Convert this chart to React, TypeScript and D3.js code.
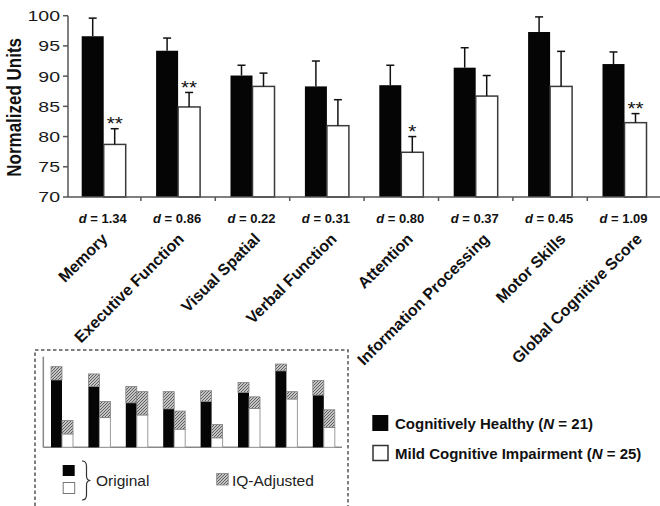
import React from "react";
import * as d3 from "d3";

// Cognitive domain scores: healthy vs. mild cognitive impairment
const categories = [
  "Memory",
  "Executive Function",
  "Visual Spatial",
  "Verbal Function",
  "Attention",
  "Information Processing",
  "Motor Skills",
  "Global Cognitive Score",
];
const healthyMean = [96.6, 94.2, 90.1, 88.3, 88.5, 91.4, 97.3, 92.0];
const healthyErr = [3.0, 2.1, 1.7, 4.2, 3.3, 3.3, 2.5, 2.0];
const mciMean = [78.7, 84.9, 88.3, 81.8, 77.4, 86.7, 88.3, 82.3];
const mciErr = [2.6, 2.4, 2.2, 4.3, 2.6, 3.4, 5.8, 1.5];
const significance = ["**", "**", "", "", "*", "", "", "**"];
const effectSizes = ["1.34", "0.86", "0.22", "0.31", "0.80", "0.37", "0.45", "1.09"];
const yTicks = [70, 75, 80, 85, 90, 95, 100];

// Inset: original means with the IQ-adjusted means stacked above
const insetHealthyOriginal = [94.6, 93.1, 89.3, 87.9, 89.6, 91.7, 96.7, 91.1];
const insetHealthyAdjusted = [97.7, 96.0, 93.1, 91.9, 92.1, 94.0, 98.3, 94.5];
const insetMciOriginal = [82.1, 85.9, 86.5, 83.2, 81.2, 88.0, 90.2, 83.6];
const insetMciAdjusted = [85.2, 89.6, 91.9, 87.4, 84.3, 90.7, 91.9, 87.7];

const groups = ["healthy", "mci"];
const FONT = "'Liberation Sans', Arial, Helvetica, sans-serif";

export default function App() {
  const W = 660;
  const H = 506;

  // main chart scales
  const x = d3.scaleBand<string>().domain(categories).range([66.5, 661.7]);
  const inner = d3.scaleBand<string>().domain(groups).range([-22, 22]);
  const y = d3.scaleLinear().domain([70, 100]).range([197, 15.7]);
  const axisX = 68;
  const cx = (c: string) => (x(c) as number) + x.bandwidth() / 2;
  // rotated category labels are spread slightly wider than the bars
  const labelX = d3.scalePoint<string>().domain(categories).range([104.5, 639]);

  // inset scales
  const ix = d3.scaleBand<string>().domain(categories).range([43.3, 342.5]);
  const iinner = d3.scaleBand<string>().domain(groups).range([-11, 11]);
  const iy = d3.scaleLinear().domain([79, 100]).range([447.3, 356.7]);
  const icx = (c: string) => (ix(c) as number) + ix.bandwidth() / 2;

  const series = [
    { key: "healthy", mean: healthyMean, err: healthyErr, fill: "#050505", stroke: "none" },
    { key: "mci", mean: mciMean, err: mciErr, fill: "#ffffff", stroke: "#3a3a3a" },
  ];

  const insetSeries = [
    { key: "healthy", orig: insetHealthyOriginal, adj: insetHealthyAdjusted, fill: "#050505", stroke: "none" },
    { key: "mci", orig: insetMciOriginal, adj: insetMciAdjusted, fill: "#ffffff", stroke: "#9a9a9a" },
  ];

  return (
    <div style={{ position: "absolute", left: 0, top: 0, width: W, height: H, background: "#fff" }}>
      <svg width={W} height={H} style={{ display: "block", fontFamily: FONT }}>
        <defs>
          <pattern id="hatch" patternUnits="userSpaceOnUse" width="3" height="3">
            <rect width="3" height="3" fill="#c4c4c4" />
            <path d="M-1,1 l2,-2 M0,3 l3,-3 M2,4 l2,-2" stroke="#555" strokeWidth="0.9" />
          </pattern>
        </defs>

        {/* y axis */}
        <line x1={axisX} x2={axisX} y1={y(100)} y2={y(70)} stroke="#555" strokeWidth={1.5} />
        {yTicks.map((t) => (
          <g key={t}>
            <line x1={axisX - 5} x2={axisX} y1={y(t)} y2={y(t)} stroke="#555" strokeWidth={1.5} />
            <text
              transform={`translate(60,${y(t)}) scale(1.3,1)`}
              textAnchor="end"
              dy="0.36em"
              fontSize={15}
              fill="#1a1a1a"
            >
              {t}
            </text>
          </g>
        ))}
        <text
          transform={`translate(21,${(y(100) + y(70)) / 2 + 1}) scale(1.2,1) rotate(-90)`}
          textAnchor="middle"
          fontSize={17}
          fontWeight="bold"
          fill="#111"
        >
          Normalized Units
        </text>

        {/* bars */}
        {series.map((s) =>
          categories.map((c, i) => {
            const bx = cx(c) + (inner(s.key) as number);
            const top = y(s.mean[i]);
            return (
              <rect
                key={s.key + c}
                x={bx}
                y={top}
                width={inner.bandwidth()}
                height={y(70) - top}
                fill={s.fill}
                stroke={s.stroke}
                strokeWidth={1.5}
              />
            );
          })
        )}

        {/* error bars */}
        {series.map((s) =>
          categories.map((c, i) => {
            const mx = cx(c) + (inner(s.key) as number) + inner.bandwidth() / 2;
            const top = y(s.mean[i]);
            const cap = y(s.mean[i] + s.err[i]);
            return (
              <g key={"e" + s.key + c} stroke="#111" strokeWidth={1.5}>
                <line x1={mx} x2={mx} y1={top} y2={cap} />
                <line x1={mx - 4} x2={mx + 4} y1={cap} y2={cap} />
              </g>
            );
          })
        )}

        {/* significance markers */}
        {categories.map((c, i) =>
          significance[i] ? (
            <text
              key={"s" + c}
              transform={`translate(${cx(c) + (inner("mci") as number) + inner.bandwidth() / 2},${
                y(mciMean[i] + mciErr[i]) + 1.5
              }) scale(1.15,1)`}
              textAnchor="middle"
              fontSize={18}
              fill="#111"
            >
              {significance[i]}
            </text>
          ) : null
        )}

        {/* x axis */}
        <line x1={axisX} x2={W} y1={y(70)} y2={y(70)} stroke="#555" strokeWidth={1.5} />
        {categories.slice(1).map((c) => (
          <line
            key={"t" + c}
            x1={x(c) as number}
            x2={x(c) as number}
            y1={y(70)}
            y2={y(70) + 4}
            stroke="#555"
            strokeWidth={1.5}
          />
        ))}

        {/* effect sizes */}
        {categories.map((c, i) => (
          <text
            key={"d" + c}
            x={cx(c) - 1}
            y={222.5}
            textAnchor="middle"
            fontSize={13}
            fontWeight="bold"
            fill="#111"
          >
            <tspan fontStyle="italic">d</tspan> = {effectSizes[i]}
          </text>
        ))}

        {/* category labels */}
        {categories.map((c) => (
          <text
            key={"l" + c}
            transform={`translate(${labelX(c)},236) rotate(-45)`}
            textAnchor="end"
            dy="0.35em"
            fontSize={16}
            fontWeight="bold"
            fill="#111"
          >
            {c}
          </text>
        ))}

        {/* inset box */}
        <rect
          x={35}
          y={350}
          width={313}
          height={200}
          fill="#fff"
          stroke="#555"
          strokeWidth={1.5}
          strokeDasharray="3.5,2.5"
        />
        <line x1={43.3} x2={43.3} y1={iy(100)} y2={iy(79)} stroke="#888" strokeWidth={1.5} />
        <line x1={43.3} x2={342} y1={iy(79)} y2={iy(79)} stroke="#888" strokeWidth={1.5} />
        {insetSeries.map((s) =>
          categories.map((c, i) => {
            const bx = icx(c) + (iinner(s.key) as number);
            const w = iinner.bandwidth();
            return (
              <g key={"i" + s.key + c}>
                <rect
                  x={bx}
                  y={iy(s.orig[i])}
                  width={w}
                  height={iy(79) - iy(s.orig[i])}
                  fill={s.fill}
                  stroke={s.stroke}
                  strokeWidth={1}
                />
                <rect
                  x={bx}
                  y={iy(s.adj[i])}
                  width={w}
                  height={iy(s.orig[i]) - iy(s.adj[i])}
                  fill="url(#hatch)"
                  stroke="#808080"
                  strokeWidth={0.8}
                />
              </g>
            );
          })
        )}

        {/* inset legend */}
        <rect x={62.7} y={465} width={12} height={11} fill="#050505" />
        <rect x={63.2} y={482.5} width={11.5} height={11} fill="#fff" stroke="#777" strokeWidth={1} />
        <path
          d="M82,461 Q86.5,461 86.5,466 L86.5,476 Q86.5,480.5 90.5,480.5 Q86.5,480.5 86.5,485 L86.5,495 Q86.5,500 82,500"
          fill="none"
          stroke="#333"
          strokeWidth={1.2}
        />
        <text x={96} y={486} fontSize={15.5} fill="#222">
          Original
        </text>
        <rect x={216.7} y={473.5} width={11.5} height={11.5} fill="url(#hatch)" stroke="#808080" strokeWidth={0.8} />
        <text x={232} y={486} fontSize={15.5} fill="#222">
          IQ-Adjusted
        </text>

        {/* main legend */}
        <rect x={372.3} y={415} width={16} height={16} fill="#050505" />
        <text x={395} y={428.5} fontSize={15} fontWeight="bold" fill="#111">
          Cognitively Healthy (<tspan fontStyle="italic">N</tspan> = 21)
        </text>
        <rect x={373} y={445.5} width={15} height={15} fill="#fff" stroke="#333" strokeWidth={1.5} />
        <text x={395} y={458.5} fontSize={15} fontWeight="bold" fill="#111">
          Mild Cognitive Impairment (<tspan fontStyle="italic">N</tspan> = 25)
        </text>
      </svg>
    </div>
  );
}
